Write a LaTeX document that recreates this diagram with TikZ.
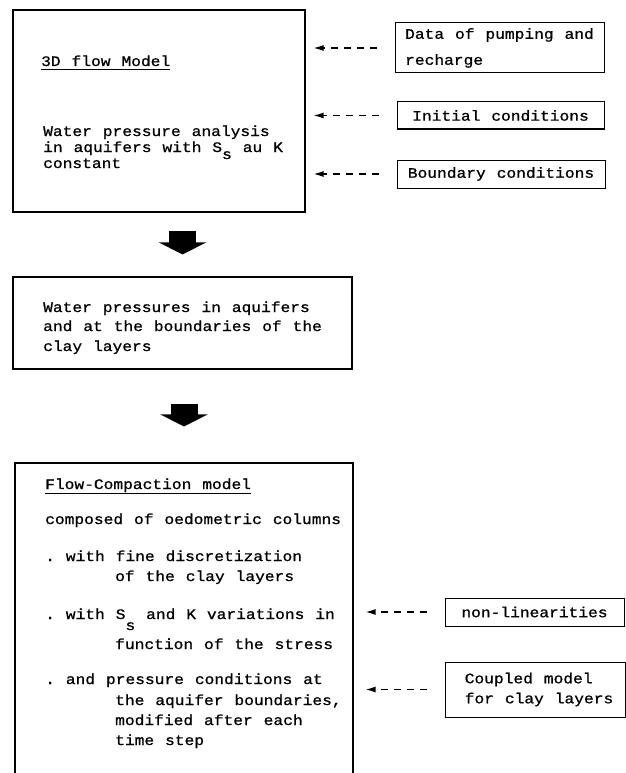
\documentclass[tikz,border=0pt]{standalone}
\usepackage{fontspec}
\setmonofont[FakeStretch=1.12,WordSpace=1.12,FakeBold=0.9]{Liberation Mono}
\usetikzlibrary{arrows.meta}
\newcommand\subs[1][-7pt]{\raisebox{#1}{s}}
\begin{document}
\begin{tikzpicture}[x=1pt,y=-1pt,
  every node/.style={font=\ttfamily\fontsize{14.5}{18}\selectfont},
  mainbox/.style={draw, line width=1.1pt, inner sep=0pt},
  sidebox/.style={draw, line width=1pt, inner sep=0pt, align=left},
  txt/.style={anchor=base west, inner sep=0pt},
  uline/.style={line width=0.9pt},
  feed/.style={line width=1.3pt, dash pattern=on 7pt off 6pt, -{Latex[length=10pt,width=6pt]}},
  fat/.style={line width=27pt, -{Triangle[length=12pt,width=47pt]}},
]
\useasboundingbox (0,0) rectangle (625,773);

% main boxes
\node[mainbox, minimum width=292pt, minimum height=202pt] (m1) at (159,111) {};
\node[mainbox, minimum width=339pt, minimum height=92pt] (m2) at (182.5,323) {};
\node[mainbox, minimum width=338pt, minimum height=337pt] (m3) at (184,631.5) {};

% box 1 text
\node[txt] (t1) at (41,66) {3D flow Model};
\draw[uline] ([yshift=-3.5pt]t1.base west) -- ([yshift=-3.5pt]t1.base east);
\node[txt] (t2) at (43,136) {Water pressure analysis};
\node[txt] (t3) at (43,152) {in aquifers with S\subs{} au K};
\node[txt] (t4) at (43,168) {constant};

% box 2 text
\node[txt] (u1) at (43,312) {Water pressures in aquifers};
\node[txt] (u2) at (43,331) {and at the boundaries of the};
\node[txt] (u3) at (43,351) {clay layers};

% box 3 text
\node[txt] (v1) at (45,489) {Flow-Compaction model};
\draw[uline] ([yshift=-4pt]v1.base west) -- ([yshift=-4pt]v1.base east);
\node[txt] (v2) at (45,524) {composed of oedometric columns};
\node[txt] (v3) at (45,561) {. with fine discretization};
\node[txt] (v4) at (115,581) {of the clay layers};
\node[txt] (v5) at (45,619) {. with S\subs[-11pt]{} and K variations in};
\node[txt] (v6) at (115,649) {function of the stress};
\node[txt] (v7) at (45,684) {. and pressure conditions at};
\node[txt] (v8) at (115,705) {the aquifer boundaries,};
\node[txt] (v9) at (115,725) {modified after each};
\node[txt] (v10) at (115,745) {time step};

% side boxes
\node[sidebox, minimum width=209pt, minimum height=50pt] (d1) at (499.5,48) {Data of pumping and\\[8pt]recharge};
\node[sidebox, minimum width=207pt, minimum height=27pt] (d2) at (500.5,115.5) {Initial conditions};
\node[sidebox, minimum width=208pt, minimum height=28pt] (d3) at (501,174) {Boundary conditions};
\node[sidebox, minimum width=179pt, minimum height=28pt] (d4) at (534.5,612) {non-linearities};
\node[sidebox, minimum width=180pt, minimum height=55pt] (d5) at (535,689.5) {\hspace*{8pt}Coupled model\\[2pt]\hspace*{8pt}for clay layers};

% feed arrows
\draw[feed, shorten <=18pt, shorten >=8pt] (d1.west) -- (m1.east |- d1.west);
\draw[feed, shorten <=18pt, shorten >=8pt] (d2.west) -- (m1.east |- d2.west);
\draw[feed, shorten <=18pt, shorten >=8pt] (d3.west) -- (m1.east |- d3.west);
\draw[feed, shorten <=18pt, shorten >=12pt] (d4.west) -- (m3.east |- d4.west);
\draw[feed, shorten <=18pt, shorten >=12pt] (d5.west) -- (m3.east |- d5.west);

% flow arrows
\draw[fat, shorten <=18pt, shorten >=22pt] (m2.north |- m1.south) -- (m2.north);
\draw[fat, shorten <=34pt, shorten >=36pt] (m3.north |- m2.south) -- (m3.north);
\end{tikzpicture}
\end{document}
